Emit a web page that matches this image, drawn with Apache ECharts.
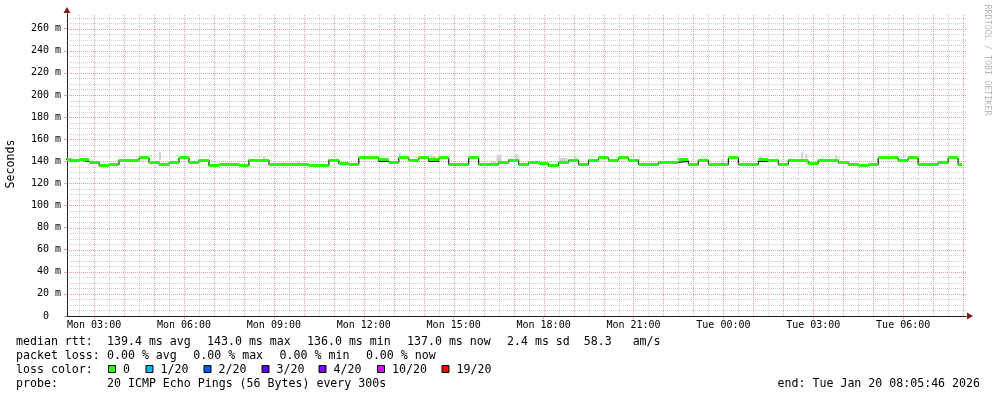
<!DOCTYPE html>
<html>
<head>
<meta charset="utf-8">
<script src="https://cdn.jsdelivr.net/npm/echarts@6/dist/echarts.min.js"></script>
<style>html,body{margin:0;padding:0;background:#fff}#c{width:997px;height:397px}</style>
</head>
<body>
<div id="c"></div>
<script>
// ---- time frame (hours counted from Mon 00:00) ----
const axisStartHour = 2 + 5 / 60 + 46 / 3600;   // Mon 02:05:46
const axisEndHour = axisStartHour + 30;          // Tue 08:05:46
const binStartHour = 1 + 50 / 60;                // first 20-minute bin starts Mon 01:50
const binMinutes = 20;
const dataEndHour = 31 + 58 / 60;                // last sample Tue ~07:58

// ---- median rtt per 20-minute bin (ms) ----
const medianMs = [
  142, 141, 142, 139, 136, 137, 141, 141, 143, 139,
  137, 139, 143, 139, 141, 136, 137, 137, 136, 141,
  141, 137, 137, 137, 137, 136, 136, 141, 138, 137,
  143, 143, 142, 139, 143, 141, 143, 142, 143, 137,
  137, 143, 137, 137, 139, 141, 137, 139, 138, 136,
  139, 141, 137, 141, 143, 141, 143, 141, 137, 137,
  139, 139, 142, 137, 141, 137, 137, 143, 137, 137,
  142, 141, 137, 141, 141, 138, 141, 141, 139, 137,
  136, 137, 143, 143, 141, 143, 137, 137, 139, 143,
  137
];
// bins where the dark median line sits below the loss-colour band: [bin index, ms]
const darkLineOverrides = [[2, 140], [32, 140], [37, 140], [62, 140], [70, 140], [74, 140]];
// light smoke spikes: [start hour, end hour, low ms, high ms]
const smoke = [
  [5.163, 5.230, 141, 148.5], [8.63, 8.70, 141, 144.5], [9.76, 9.86, 137, 140],
  [13.163, 13.230, 142, 148], [14.2, 14.4, 140, 145], [16.23, 16.40, 137, 140],
  [16.43, 16.60, 139, 146], [17.06, 17.16, 141, 146.5], [18.5, 18.8, 139, 143],
  [19.03, 19.13, 141, 143.5], [22.43, 22.50, 141, 143.5], [23.93, 24.03, 137, 142],
  [25.2, 25.3, 142, 144.5], [26.6, 26.66, 141, 148.5], [26.73, 26.80, 138, 146.5],
  [27.73, 27.80, 141, 146]
];

// ---- axes ----
const yMax = 273.3;
const yLabelValues = [0, 20, 40, 60, 80, 100, 120, 140, 160, 180, 200, 220, 240, 260];
const xLabelHours = [3, 6, 9, 12, 15, 18, 21, 24, 27, 30];
const xLabelTexts = ['Mon 03:00', 'Mon 06:00', 'Mon 09:00', 'Mon 12:00', 'Mon 15:00',
                     'Mon 18:00', 'Mon 21:00', 'Tue 00:00', 'Tue 03:00', 'Tue 06:00'];
const yAxisName = 'Seconds';
const watermark = 'RRDTOOL / TOBI OETIKER';

// ---- legend text ----
const rttLabel = 'median rtt:';
const rttStats = ['139.4 ms avg', '143.0 ms max', '136.0 ms min', '137.0 ms now', '2.4 ms sd  58.3   am/s'];
const lossLabel = 'packet loss:';
const lossStats = ['0.00 % avg', '0.00 % max', '0.00 % min', '0.00 % now'];
const colorLabel = 'loss color:';
const lossNames = ['0', '1/20', '2/20', '3/20', '4/20', '10/20', '19/20'];
const lossColors = ['#26ff00', '#00b8ff', '#0059ff', '#5e00ff', '#7e00ff', '#dd00ff', '#ff0000'];
const probeLabel = 'probe:';
const probeText = '20 ICMP Echo Pings (56 Bytes) every 300s';
const endText = 'end: Tue Jan 20 08:05:46 2026';

// ---------------------------------------------------------------
const gridHours = [];   // [hour, isMajor]
for (let h = 2.5; h < axisEndHour; h += 0.5) gridHours.push([h, Number.isInteger(h) ? 1 : 0]);
const gridMs = [];      // [ms, isMajor]
for (let v = 5; v < yMax; v += 5) gridMs.push([v, v % 20 === 0 ? 1 : 0]);

const binStart = i => binStartHour + i * binMinutes / 60;
const bandData = medianMs.map((v, i) => [binStart(i), Math.min(binStart(i + 1), dataEndHour), v]);
const darkVals = medianMs.slice();
darkLineOverrides.forEach(([i, v]) => { darkVals[i] = v; });
const darkData = darkVals.map((v, i) => [binStart(i), v]);
darkData.push([dataEndHour, darkVals[darkVals.length - 1]]);

const MONO = '"DejaVu Sans Mono", monospace';
const FS = 11.6;
const gridMinor = 'rgba(143,143,143,0.42)';
const gridMajor = 'rgba(222,79,79,0.55)';

function clipRect(rect, cs) {
  return echarts.graphic.clipRectByRect(rect, { x: cs.x, y: cs.y, width: cs.width, height: cs.height });
}

const graphic = [];
function txt(x, y, text, extra) {
  graphic.push(Object.assign({ type: 'text', x, y, silent: true,
    style: { text, font: FS + 'px ' + MONO, fill: '#000', verticalAlign: 'middle' } }, extra || {}));
}
txt(16, 341.5, rttLabel);
rttStats.forEach((s, i) => txt(107 + 100 * i, 341.5, s));
txt(16, 355.5, lossLabel);
lossStats.forEach((s, i) => txt(107 + 86.3 * i, 355.5, s));
txt(16, 369.5, colorLabel);
const swatchX = [108, 145.5, 203.5, 261.5, 318.5, 377, 441.5];
lossNames.forEach((n, i) => {
  graphic.push({ type: 'rect', silent: true, shape: { x: swatchX[i] + 0.5, y: 365.5, width: 7, height: 7 },
    style: { fill: lossColors[i], stroke: '#000', lineWidth: 1 } });
  txt(swatchX[i] + 15, 369.5, n);
});
txt(16, 383.5, probeLabel);
txt(107, 383.5, probeText);
graphic.push({ type: 'text', x: 980, y: 383.5, silent: true,
  style: { text: endText, font: FS + 'px ' + MONO, fill: '#000', align: 'right', verticalAlign: 'middle' } });
graphic.push({ type: 'text', x: 11, y: 164, rotation: Math.PI / 2, silent: true,
  style: { text: yAxisName, font: FS + 'px ' + MONO, fill: '#000', align: 'center', verticalAlign: 'middle' } });
graphic.push({ type: 'text', x: 987, y: 60, rotation: -Math.PI / 2, silent: true,
  style: { text: watermark, font: '8.4px ' + MONO, fill: '#b8b8b8', align: 'center', verticalAlign: 'middle' } });

const chart = echarts.init(document.getElementById('c'), null, { renderer: 'canvas' });
chart.setOption({
  animation: false,
  backgroundColor: '#fff',
  grid: { left: 67, right: 31, top: 14, bottom: 81, containLabel: false },
  xAxis: [
    { type: 'value', position: 'bottom', min: axisStartHour, max: axisEndHour,
      axisLine: { show: true, lineStyle: { color: '#801f1f', width: 1 },
        symbol: ['none', 'triangle'], symbolSize: [7, 6], symbolOffset: [0, 4] },
      axisTick: { show: false }, axisLabel: { show: false }, splitLine: { show: false } },
    { type: 'value', position: 'bottom', min: axisStartHour, max: axisEndHour,
      axisLine: { show: true, lineStyle: { color: '#1f1f1f', width: 1 } },
      axisTick: { show: true, customValues: xLabelHours, length: 3, lineStyle: { color: gridMajor } },
      axisLabel: { show: true, customValues: xLabelHours, margin: 4,
        formatter: v => xLabelTexts[xLabelHours.indexOf(Math.round(v))] || '',
        fontFamily: MONO, fontSize: 10, color: '#000' },
      splitLine: { show: false } }
  ],
  yAxis: [
    { type: 'value', position: 'left', min: 0, max: yMax,
      axisLine: { show: true, lineStyle: { color: '#801f1f', width: 1 },
        symbol: ['none', 'triangle'], symbolSize: [7, 6], symbolOffset: [0, 4] },
      axisTick: { show: false }, axisLabel: { show: false }, splitLine: { show: false } },
    { type: 'value', position: 'left', min: 0, max: yMax,
      axisLine: { show: true, lineStyle: { color: '#1f1f1f', width: 1 } },
      axisTick: { show: true, customValues: yLabelValues, length: 3, lineStyle: { color: gridMajor } },
      axisLabel: { show: true, customValues: yLabelValues, margin: 6,
        formatter: v => (v === 0 ? '0  ' : v + ' m'),
        fontFamily: MONO, fontSize: 10, color: '#000' },
      splitLine: { show: false } }
  ],
  series: [
    { type: 'custom', xAxisIndex: 1, yAxisIndex: 1, data: gridHours, silent: true, z: 1,
      renderItem(params, api) {
        const h = api.value(0);
        const a = api.coord([h, 0]);
        const b = api.coord([h, yMax]);
        const x = Math.round(a[0]) + 0.5;
        return { type: 'line', shape: { x1: x, y1: a[1], x2: x, y2: b[1] },
          style: { stroke: gridHours[params.dataIndex][1] ? gridMajor : gridMinor, lineWidth: 1, lineDash: [1, 1] } };
      } },
    { type: 'custom', xAxisIndex: 1, yAxisIndex: 1, data: gridMs.map(d => [axisStartHour, d[0]]), silent: true, z: 1,
      renderItem(params, api) {
        const v = api.value(1);
        const a = api.coord([axisStartHour, v]);
        const b = api.coord([axisEndHour, v]);
        const y = Math.round(a[1]) + 0.5;
        return { type: 'line', shape: { x1: a[0], y1: y, x2: b[0], y2: y },
          style: { stroke: gridMs[params.dataIndex][1] ? gridMajor : gridMinor, lineWidth: 1, lineDash: [1, 1] } };
      } },
    { type: 'custom', xAxisIndex: 1, yAxisIndex: 1, data: smoke, silent: true, z: 2,
      renderItem(params, api) {
        const a = api.coord([api.value(0), api.value(3)]);
        const b = api.coord([api.value(1), api.value(2)]);
        const shape = clipRect({ x: a[0], y: a[1], width: b[0] - a[0], height: b[1] - a[1] }, params.coordSys);
        return shape && { type: 'rect', shape, style: { fill: '#d2d2d2' } };
      } },
    { type: 'line', xAxisIndex: 1, yAxisIndex: 1, data: darkData, step: 'end', showSymbol: false,
      symbol: 'none', silent: true, z: 3, lineStyle: { color: '#202020', width: 1.2 } },
    { type: 'custom', xAxisIndex: 1, yAxisIndex: 1, data: bandData, silent: true, z: 4,
      renderItem(params, api) {
        const a = api.coord([api.value(0), api.value(2)]);
        const b = api.coord([api.value(1), api.value(2)]);
        const top = Math.round(a[1] - 1.5);
        const shape = clipRect({ x: a[0], y: top, width: b[0] - a[0], height: 3 }, params.coordSys);
        return shape && { type: 'rect', shape, style: { fill: '#26ff00' } };
      } }
  ],
  graphic
});
</script>
</body>
</html>
